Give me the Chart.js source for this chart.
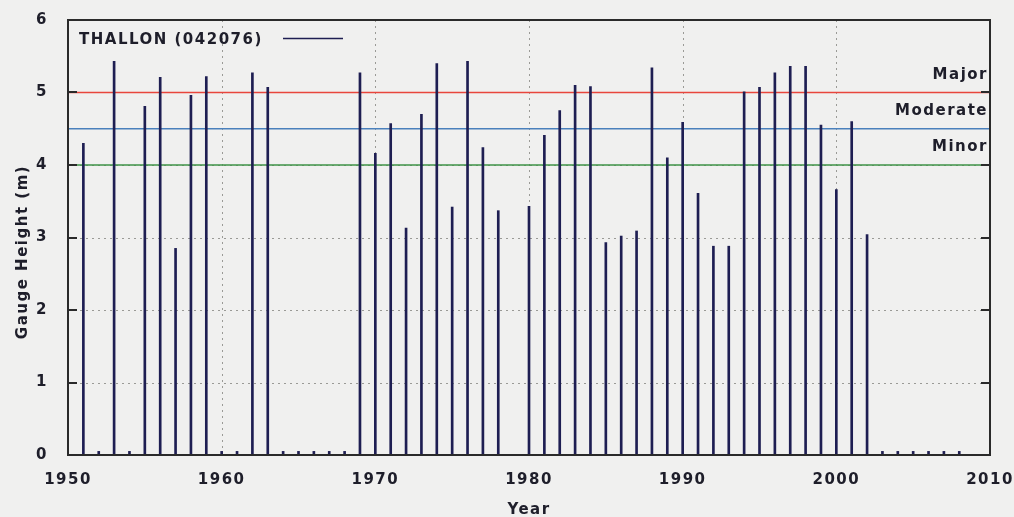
<!DOCTYPE html>
<html>
<head>
<meta charset="utf-8">
<script src="https://cdn.jsdelivr.net/npm/chart.js@4/dist/chart.umd.min.js"></script>
<style>
  html, body { margin: 0; padding: 0; background: #f0f0ef; }
  #wrap { width: 1014px; height: 517px; }
</style>
</head>
<body>
<div id="wrap"><canvas id="c" width="1014" height="517"></canvas></div>
<script>
// ---- data ----
const years = [1951,1952,1953,1954,1955,1956,1957,1958,1959,1960,1961,1962,1963,1964,1965,1966,1967,1968,
  1969,1970,1971,1972,1973,1974,1975,1976,1977,1978,1980,1981,1982,1983,1984,1985,1986,1987,1988,1989,
  1990,1991,1992,1993,1994,1995,1996,1997,1998,1999,2000,2001,2002,2003,2004,2005,2006,2007,2008];
const heights = [4.30,0.05,5.43,0.05,4.81,5.21,2.85,4.96,5.22,0.05,0.05,5.27,5.07,0.05,0.05,0.05,0.05,0.05,
  5.27,4.16,4.57,3.13,4.70,5.40,3.42,5.43,4.24,3.37,3.43,4.41,4.75,5.10,5.08,2.93,3.02,3.09,5.34,4.10,
  4.59,3.61,2.88,2.88,5.01,5.07,5.27,5.36,5.36,4.55,3.66,4.60,3.04,0.05,0.05,0.05,0.05,0.05,0.05];
const seriesName = 'THALLON (042076)';
const floodLevels = [5.0, 4.5, 4.0];
const floodNames = ['Major', 'Moderate', 'Minor'];
const floodColors = ['#e8463c', '#4a80bc', '#3f9347'];
const xTicks = [1950,1960,1970,1980,1990,2000,2010];
const yTicks = [0,1,2,3,4,5,6];
const xTitle = 'Year';
const yTitle = 'Gauge Height (m)';

const FAMILY = '"DejaVu Sans", sans-serif';
const FONT = 'bold 15px ' + FAMILY;
const SPACING = '1.5px';
const TXT = '#1e1e2a';
const BAR = '#1e1e52';

const extras = {
  id: 'extras',
  beforeInit(chart) { chart.ctx.letterSpacing = SPACING; },
  beforeDraw(chart) {
    const ctx = chart.ctx;
    ctx.letterSpacing = SPACING;
    const xs = chart.scales.x, ys = chart.scales.y, a = chart.chartArea;
    ctx.save();
    ctx.strokeStyle = '#9a9a96';
    ctx.lineWidth = 1;
    ctx.setLineDash([2, 4]);
    for (const v of xTicks) {
      if (v === xTicks[0] || v === xTicks[xTicks.length-1]) continue;
      const px = Math.round(xs.getPixelForValue(v)) + 0.5;
      ctx.beginPath(); ctx.moveTo(px, a.top); ctx.lineTo(px, a.bottom); ctx.stroke();
    }
    for (const v of yTicks) {
      if (v === 0 || v === 6) continue;
      const py = Math.round(ys.getPixelForValue(v)) + 0.5;
      ctx.beginPath(); ctx.moveTo(a.left, py); ctx.lineTo(a.right, py); ctx.stroke();
    }
    ctx.restore();
  },
  afterDatasetsDraw(chart) {
    const ctx = chart.ctx;
    const xs = chart.scales.x, ys = chart.scales.y, a = chart.chartArea;
    ctx.save();
    ctx.letterSpacing = SPACING;
    // border
    ctx.strokeStyle = '#2a2a2a';
    ctx.lineWidth = 2;
    ctx.strokeRect(a.left, a.top, a.right - a.left, a.bottom - a.top);
    // inward y ticks both sides
    for (const v of yTicks) {
      const py = Math.round(ys.getPixelForValue(v));
      ctx.beginPath(); ctx.moveTo(a.left, py); ctx.lineTo(a.left + 9, py); ctx.stroke();
      ctx.beginPath(); ctx.moveTo(a.right, py); ctx.lineTo(a.right - 9, py); ctx.stroke();
    }
    // flood labels
    ctx.fillStyle = TXT;
    ctx.font = FONT;
    ctx.textAlign = 'right';
    ctx.textBaseline = 'alphabetic';
    floodLevels.forEach((lv, i) => {
      const py = ys.getPixelForValue(lv);
      ctx.fillText(floodNames[i], a.right - 2, py - 14);
    });
    // legend
    ctx.textAlign = 'left';
    ctx.fillText(seriesName, a.left + 11, a.top + 24);
    ctx.strokeStyle = BAR;
    ctx.lineWidth = 1.5;
    ctx.beginPath(); ctx.moveTo(a.left + 215, a.top + 18.5); ctx.lineTo(a.left + 275, a.top + 18.5); ctx.stroke();
    // axis titles
    ctx.textAlign = 'center';
    ctx.fillText(xTitle, (a.left + a.right) / 2, 514);
    ctx.translate(27, 252);
    ctx.rotate(-Math.PI / 2);
    ctx.fillText(yTitle, 0, 0);
    ctx.restore();
  }
};

const datasets = [{
  type: 'bar',
  label: seriesName,
  data: years.map((y, i) => ({ x: y, y: heights[i] })),
  backgroundColor: BAR,
  borderWidth: 0,
  barThickness: 2,
  grouped: false,
  order: 1
}];
floodLevels.forEach((lv, i) => {
  datasets.push({
    type: 'line',
    label: floodNames[i],
    data: [{ x: xTicks[0], y: lv }, { x: xTicks[xTicks.length-1], y: lv }],
    borderColor: floodColors[i],
    borderWidth: 1.5,
    pointRadius: 0,
    order: 2
  });
});

const tickFont = { family: FAMILY, size: 15, weight: 'bold' };

new Chart(document.getElementById('c'), {
  type: 'bar',
  data: { datasets },
  plugins: [extras],
  options: {
    responsive: false,
    animation: false,
    events: [],
    layout: { padding: { top: 20, right: 24, left: 0, bottom: 0 } },
    plugins: { legend: { display: false }, tooltip: { enabled: false } },
    scales: {
      x: {
        type: 'linear', min: 1950, max: 2010, offset: false,
        grid: { display: false }, border: { display: false },
        afterBuildTicks(s) { s.ticks = xTicks.map(v => ({ value: v })); },
        afterFit(s) { s.height = 62; s.paddingLeft = 0; s.paddingRight = 0; },
        ticks: { color: TXT, font: tickFont, padding: 8, maxRotation: 0, autoSkip: false,
                 callback: v => String(v) }
      },
      y: {
        min: 0, max: 6,
        grid: { display: false }, border: { display: false },
        afterBuildTicks(s) { s.ticks = yTicks.map(v => ({ value: v })); },
        afterFit(s) { s.width = 68; s.paddingTop = 0; s.paddingBottom = 0; },
        ticks: { color: TXT, font: tickFont, padding: 12, callback: v => String(v) }
      }
    }
  }
});
</script>
</body>
</html>
